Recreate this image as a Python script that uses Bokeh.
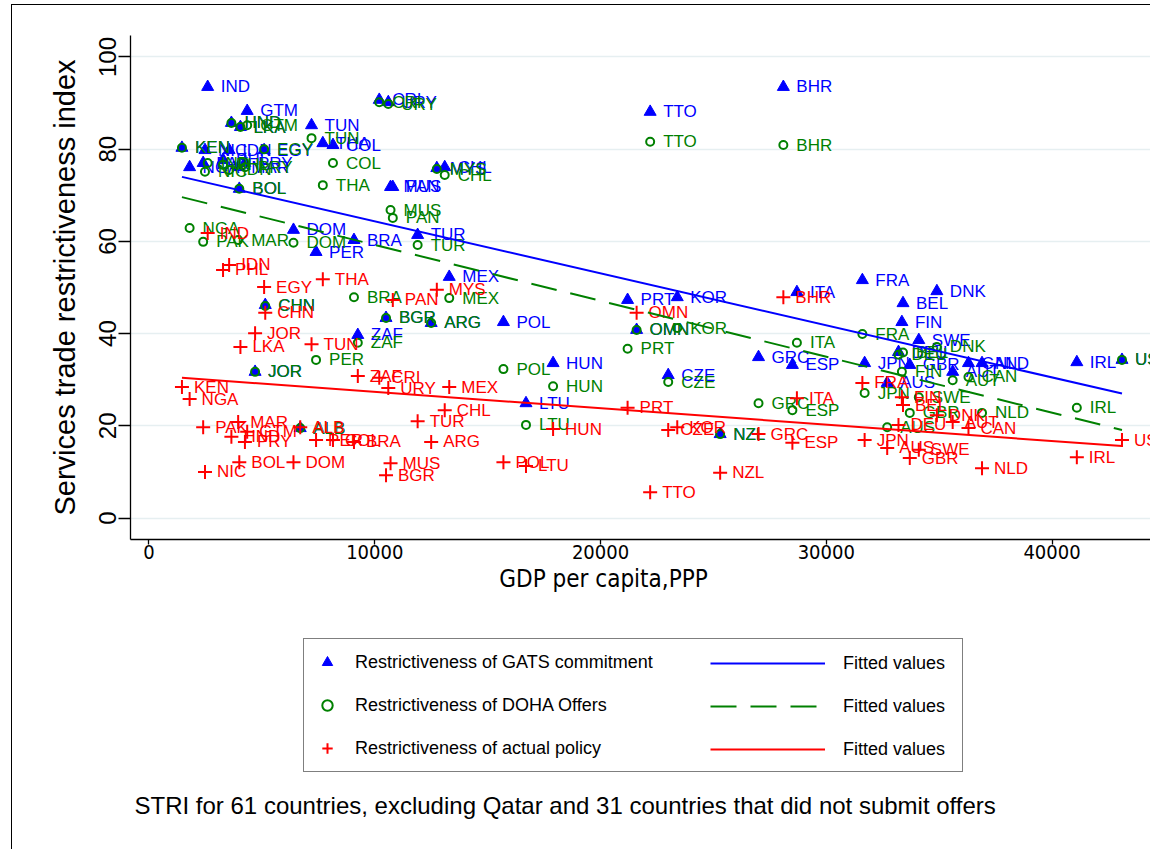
import math
from bokeh.plotting import figure
from bokeh.layouts import column
from bokeh.models import ColumnDataSource, Legend, LegendItem, Label, Range1d, FixedTicker
from bokeh.core.properties import value
from bokeh.embed import file_html
from bokeh.resources import INLINE

# ---------------- data ----------------
countries = ["IND", "KEN", "NGA", "PAK", "NIC", "PHL", "IDN", "HND", "MAR", "LKA",
             "BOL", "PRY", "GTM", "JOR", "EGY", "CHN", "ALB", "DOM", "TUN", "PER",
             "THA", "COL", "BRA", "ZAF", "CRI", "URY", "BGR", "MUS", "PAN", "TUR",
             "ARG", "MYS", "CHL", "MEX", "POL", "LTU", "HUN", "PRT", "OMN", "TTO",
             "CZE", "KOR", "NZL", "GRC", "ESP", "ITA", "BHR", "FRA", "JPN", "AUS",
             "FIN", "BEL", "DEU", "GBR", "SWE", "DNK", "AUT", "CAN", "NLD", "IRL",
             "USA"]
gdp = [2600, 1460, 1800, 2400, 2480, 3280, 3550, 3650, 3950, 4050,
       4000, 4250, 4350, 4700, 5100, 5150, 6700, 6400, 7200, 7400,
       7700, 8150, 9080, 9250, 10200, 10600, 10500, 10700, 10800, 11900,
       12500, 12750, 13100, 13300, 15700, 16700, 17900, 21200, 21600, 22200,
       23000, 23400, 25300, 27000, 28500, 28700, 28100, 31600, 31700, 32700,
       33350, 33400, 33200, 33700, 34100, 34900, 35600, 36300, 36900, 41100,
       43100]
gats = [93.5, 80.3, 76.1, 77.0, 79.8, 77.7, 79.8, 85.7, 76.1, 84.8,
        71.4, 77.0, 88.3, 31.7, 79.8, 46.2, 19.5, 62.5, 85.2, 57.7,
        81.3, 80.9, 60.3, 39.7, 90.7, 90.2, 43.4, 71.8, 71.8, 61.4,
        42.3, 75.9, 76.1, 52.3, 42.5, 24.9, 33.6, 47.3, 40.8, 88.1,
        31.0, 47.9, 18.2, 34.9, 33.2, 49.0, 93.5, 51.6, 33.6, 29.3,
        42.5, 46.6, 36.0, 33.2, 38.6, 49.2, 31.7, 33.6, 33.6, 33.8,
        34.3]
doha = [77.0, 80.3, 62.9, 59.9, 75.1, 76.6, 75.5, 85.7, 60.3, 84.8,
        71.4, 76.1, 85.2, 31.7, 80.0, 46.0, 19.5, 59.7, 82.4, 34.3,
        72.2, 77.0, 47.9, 38.0, 90.2, 89.8, 43.4, 66.8, 65.1, 59.2,
        42.3, 75.7, 74.4, 47.7, 32.3, 20.2, 28.6, 36.7, 40.8, 81.6,
        29.5, 41.2, 18.2, 24.9, 23.4, 38.0, 80.9, 39.9, 27.1, 19.7,
        31.7, 35.9, 35.4, 22.8, 26.2, 37.1, 29.9, 30.6, 22.8, 23.9,
        34.3]
actual = [61.8, 28.4, 25.8, 19.7, 10.0, 53.8, 54.9, 17.6, 20.8, 37.1,
          12.1, 16.5, 18.7, 40.1, 50.1, 44.5, 19.7, 12.1, 37.7, 16.9,
          51.8, 16.9, 16.5, 30.8, 30.4, 28.2, 9.3, 11.9, 47.3, 21.0,
          16.5, 49.5, 23.4, 28.4, 12.1, 11.3, 19.3, 23.9, 44.5, 5.6,
          19.1, 19.7, 9.8, 18.2, 16.3, 26.0, 47.9, 29.3, 16.9, 15.2,
          26.2, 24.5, 20.2, 13.0, 14.8, 22.3, 20.8, 19.5, 10.8, 13.2,
          16.9]
# fitted values read at the lowest and highest GDP
fit_gats = [74.0, 27.0]
fit_doha = [69.6, 19.1]
fit_actual = [30.4, 15.6]
x_ticks = [0, 10000, 20000, 30000, 40000]
y_ticks = [0, 20, 40, 60, 80, 100]

series_labels = ["Restrictiveness of GATS commitment",
                 "Restrictiveness of DOHA Offers",
                 "Restrictiveness of actual policy"]
fit_label = "Fitted values"
x_title = "GDP per capita,PPP"
y_title = "Services trade restrictiveness index"
note = "STRI for 61 countries, excluding Qatar and 31 countries that did not submit offers"

BLUE = "#0000ff"
GREEN = "#008000"
RED = "#ff0000"
SANS = "Liberation Sans"
NARROW = "'Liberation Sans Narrow', 'DejaVu Sans Condensed', sans-serif"

W = 1138
H1 = 560
H2 = 284

src = ColumnDataSource(dict(country=countries, gdp=gdp, gats=gats, doha=doha, actual=actual))
fit_x = [min(gdp), max(gdp)]
fit_src = ColumnDataSource(dict(x=fit_x, gats=fit_gats, doha=fit_doha, actual=fit_actual))

# ---------------- main plot ----------------
p = figure(width=W, height=H1, output_backend="svg", toolbar_location=None,
           x_range=Range1d(-819, 44363), y_range=Range1d(-4.66, 104.66),
           min_border_left=118, min_border_right=0, min_border_top=30,
           min_border_bottom=26,
           background_fill_color="white", border_fill_color="white")
p.outline_line_color = None

p.xaxis.ticker = FixedTicker(ticks=x_ticks)
p.yaxis.ticker = FixedTicker(ticks=y_ticks)
for ax in (p.xaxis[0], p.yaxis[0]):
    ax.axis_line_color = "black"
    ax.axis_line_width = 1.3
    ax.major_tick_line_color = "black"
    ax.major_tick_line_width = 1.3
    ax.minor_tick_line_color = None
    ax.major_tick_in = 0
    ax.major_label_text_color = "black"
p.xaxis.major_tick_out = 5
p.xaxis.major_label_standoff = 0
p.xaxis.major_label_text_font = NARROW
p.xaxis.major_label_text_font_size = "20px"
p.yaxis.major_tick_out = 12
p.yaxis.major_label_standoff = 2
p.yaxis.major_label_orientation = "vertical"
p.yaxis.major_label_text_font = SANS
p.yaxis.major_label_text_font_size = "24px"
p.yaxis.axis_label = y_title
p.yaxis.axis_label_text_font = SANS
p.yaxis.axis_label_text_font_size = "29px"
p.yaxis.axis_label_text_font_style = "normal"
p.yaxis.axis_label_text_color = "black"
p.yaxis.axis_label_standoff = 16

p.xgrid.visible = False
p.ygrid.ticker = FixedTicker(ticks=y_ticks)
p.ygrid.grid_line_color = "#e6eff1"
p.ygrid.grid_line_width = 1.5

marker_gats = dict(marker="triangle", size=12, fill_color=BLUE, line_color=BLUE)
marker_doha = dict(marker="circle", size=8, fill_color=None, line_color=GREEN, line_width=2)
marker_act = dict(marker="cross", size=14, line_color=RED, line_width=2)
line_gats = dict(line_color=BLUE, line_width=2)
line_doha = dict(line_color=GREEN, line_width=2, line_dash="26 14")
line_act = dict(line_color=RED, line_width=2)
lab = dict(source=src, text="country", text_baseline="middle",
           text_font=value(SANS), text_font_size="17px")

p.scatter("gdp", "gats", source=src, **marker_gats)
p.text("gdp", "gats", x_offset=13, text_color=BLUE, **lab)
p.scatter("gdp", "doha", source=src, **marker_doha)
p.text("gdp", "doha", x_offset=13, text_color=GREEN, **lab)
p.scatter("gdp", "actual", source=src, **marker_act)
p.text("gdp", "actual", x_offset=12, text_color=RED, **lab)

p.line("x", "gats", source=fit_src, **line_gats)
p.line("x", "doha", source=fit_src, **line_doha)
p.line("x", "actual", source=fit_src, **line_act)

# ---------------- lower panel: x title, legend, note ----------------
# its ranges lie far away from the data, so the key renderers below stay hidden
q = figure(width=W, height=H2, output_backend="svg", toolbar_location=None,
           x_range=Range1d(-819, 44363), y_range=Range1d(1000, 1001),
           x_axis_type=None, y_axis_type=None,
           min_border_left=0, min_border_right=0, min_border_top=0, min_border_bottom=0,
           background_fill_color="white", border_fill_color="white")
q.outline_line_color = None
q.xgrid.visible = False
q.ygrid.visible = False

k_gats = q.scatter("gdp", "gats", source=src, **marker_gats)
k_doha = q.scatter("gdp", "doha", source=src, **marker_doha)
k_act = q.scatter("gdp", "actual", source=src, **marker_act)
f_gats = q.line("x", "gats", source=fit_src, **line_gats)
f_doha = q.line("x", "doha", source=fit_src, **line_doha)
f_act = q.line("x", "actual", source=fit_src, **line_act)

common = dict(orientation="vertical", padding=10, spacing=17, glyph_height=26,
              label_height=26, label_text_font=SANS,
              label_text_font_size="18px", label_text_color="black", margin=0)
leg_a = Legend(items=[LegendItem(label=series_labels[0], renderers=[k_gats]),
                      LegendItem(label=series_labels[1], renderers=[k_doha]),
                      LegendItem(label=series_labels[2], renderers=[k_act])],
               location=(173, 77), glyph_width=26, label_standoff=15, label_width=597,
               border_line_color="black", border_line_width=1.5,
               background_fill_color="white", background_fill_alpha=1.0, **common)
leg_b = Legend(items=[LegendItem(label=fit_label, renderers=[f_gats]),
                      LegendItem(label=fit_label, renderers=[f_doha]),
                      LegendItem(label=fit_label, renderers=[f_act])],
               location=(570, 77), glyph_width=115, label_standoff=18, label_width=60,
               border_line_alpha=0, background_fill_alpha=0, **common)
q.add_layout(leg_a)
q.add_layout(leg_b)

q.add_layout(Label(x=473, y=271, x_units="screen", y_units="screen", text=x_title,
                   text_align="center", text_baseline="alphabetic", text_font=NARROW,
                   text_font_size="24px", text_color="black"))
q.add_layout(Label(x=4, y=44, x_units="screen", y_units="screen", text=note,
                   text_align="left", text_baseline="middle", text_font=SANS,
                   text_font_size="24px", text_color="black"))

page = column(p, q, spacing=0,
              styles={"border-left": "1.5px solid black", "border-top": "1.5px solid black",
                      "margin-left": "11px", "margin-top": "4px"})

open("out.html", "w").write(file_html(page, INLINE))
